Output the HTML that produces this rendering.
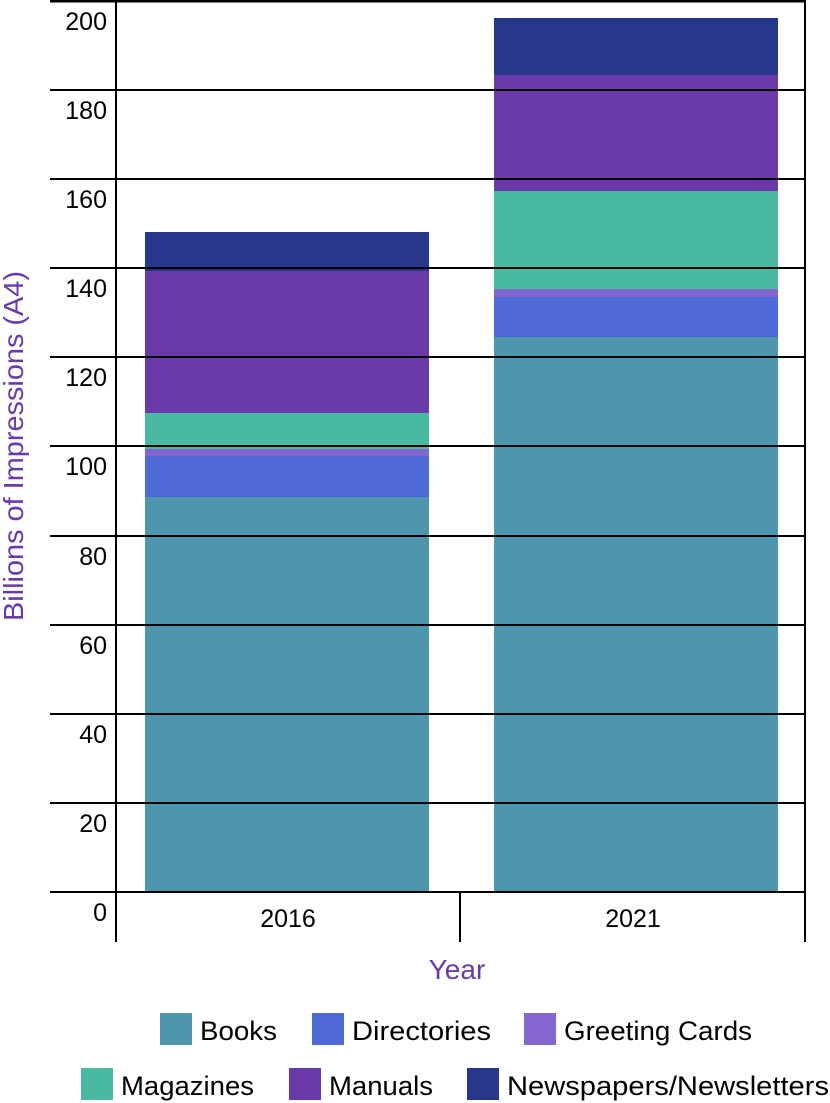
<!DOCTYPE html>
<html><head><meta charset="utf-8"><style>body{margin:0;background:#fff}svg{display:block}</style></head>
<body>
<svg width="830" height="1103" xmlns="http://www.w3.org/2000/svg" font-family="Liberation Sans, DejaVu Sans, sans-serif">
<g>
<rect x="145" y="497" width="284" height="395" fill="#4e95ae"/>
<rect x="145" y="456" width="284" height="41" fill="#4f6ad6"/>
<rect x="145" y="449" width="284" height="7" fill="#8466cf"/>
<rect x="145" y="413" width="284" height="36" fill="#4ab9a2"/>
<rect x="145" y="271" width="284" height="142" fill="#6a3aab"/>
<rect x="145" y="232" width="284" height="39" fill="#27378b"/>
<rect x="494" y="337" width="284" height="555" fill="#4e95ae"/>
<rect x="494" y="297" width="284" height="40" fill="#4f6ad6"/>
<rect x="494" y="289" width="284" height="8" fill="#8466cf"/>
<rect x="494" y="191" width="284" height="98" fill="#4ab9a2"/>
<rect x="494" y="75" width="284" height="116" fill="#6a3aab"/>
<rect x="494" y="18" width="284" height="57" fill="#27378b"/>
</g>
<g stroke="#000" stroke-width="2">
<line x1="50" y1="1" x2="806" y2="1" stroke-width="3"/>
<line x1="50" y1="90" x2="806" y2="90"/>
<line x1="50" y1="179" x2="806" y2="179"/>
<line x1="50" y1="268" x2="806" y2="268"/>
<line x1="50" y1="357" x2="806" y2="357"/>
<line x1="50" y1="446" x2="806" y2="446"/>
<line x1="50" y1="536" x2="806" y2="536"/>
<line x1="50" y1="625" x2="806" y2="625"/>
<line x1="50" y1="714" x2="806" y2="714"/>
<line x1="50" y1="803" x2="806" y2="803"/>
<line x1="50" y1="892" x2="806" y2="892"/>
<line x1="116" y1="0" x2="116" y2="942"/>
<line x1="805" y1="0" x2="805" y2="942"/>
<line x1="460" y1="892" x2="460" y2="942"/>
</g>
<g font-size="25" text-anchor="end" fill="#000">
<text x="107" y="30">200</text><text x="107" y="119">180</text><text x="107" y="208">160</text><text x="107" y="297">140</text><text x="107" y="386">120</text><text x="107" y="475">100</text><text x="107" y="565">80</text><text x="107" y="654">60</text><text x="107" y="743">40</text><text x="107" y="832">20</text><text x="107" y="921">0</text>
</g>
<g font-size="25" text-anchor="middle">
<text x="288" y="927">2016</text><text x="633" y="927">2021</text>
<text x="457" y="979" fill="#6a3aab" font-size="28">Year</text>
<text transform="translate(23,446) rotate(-90)" fill="#6a3aab" font-size="28" textLength="350" lengthAdjust="spacingAndGlyphs">Billions of Impressions (A4)</text>
</g>
<g font-size="27">
<rect x="160" y="1013" width="32" height="32" fill="#4e95ae"/><text x="200" y="1040" textLength="77" lengthAdjust="spacingAndGlyphs">Books</text>
<rect x="312" y="1013" width="32" height="32" fill="#4f6ad6"/><text x="352" y="1040" textLength="139" lengthAdjust="spacingAndGlyphs">Directories</text>
<rect x="524" y="1013" width="32" height="32" fill="#8466cf"/><text x="564" y="1040" textLength="188" lengthAdjust="spacingAndGlyphs">Greeting Cards</text>
<rect x="81" y="1068" width="32" height="32" fill="#4ab9a2"/><text x="121" y="1095" textLength="133" lengthAdjust="spacingAndGlyphs">Magazines</text>
<rect x="289" y="1068" width="32" height="32" fill="#6a3aab"/><text x="329" y="1095" textLength="104" lengthAdjust="spacingAndGlyphs">Manuals</text>
<rect x="467" y="1068" width="32" height="32" fill="#27378b"/><text x="507" y="1095" textLength="322" lengthAdjust="spacingAndGlyphs">Newspapers/Newsletters</text>
</g>
</svg>
</body></html>
